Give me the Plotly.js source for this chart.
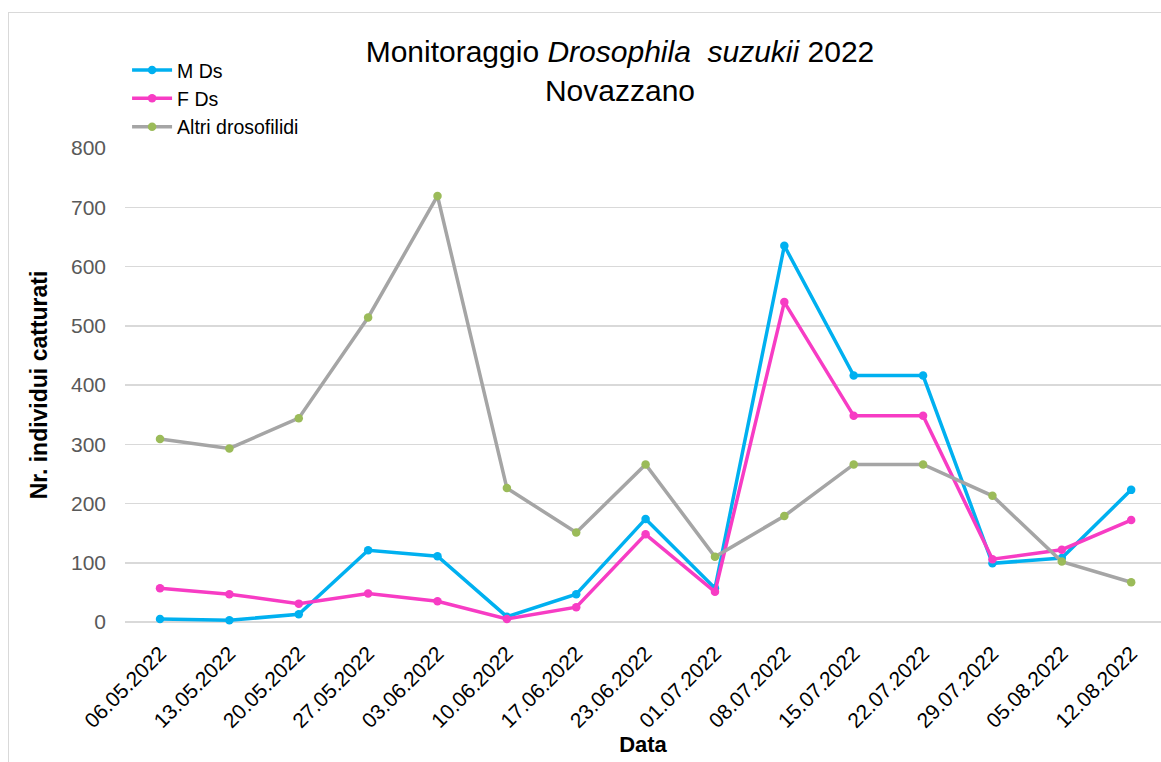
<!DOCTYPE html>
<html><head><meta charset="utf-8">
<script src="https://cdn.plot.ly/plotly-3.0.1.min.js"></script>
<style>
html,body{margin:0;padding:0;background:#fff;}
#frame{position:absolute;left:8px;top:12px;width:1160px;height:760px;border:1px solid #d9d9d9;box-sizing:border-box;}
#chart{position:absolute;left:0;top:0;width:1161px;height:762px;}
</style>
</head><body>
<div id="frame"></div>
<div id="chart"></div>
<script>
const dates = ["06.05.2022","13.05.2022","20.05.2022","27.05.2022","03.06.2022","10.06.2022","17.06.2022","23.06.2022","01.07.2022","08.07.2022","15.07.2022","22.07.2022","29.07.2022","05.08.2022","12.08.2022"];
const maleDs = [5,3,13,121,111,9,47,174,57,635,416,416,99,108,223];
const femaleDs = [57,47,31,48,35,5,25,148,51,540,348,348,106,122,172];
const altriDrosofilidi = [309,293,344,514,719,226,151,266,110,179,266,266,213,102,67];

const traces = [
  {x: dates, y: maleDs, name: "M Ds", type: "scatter", mode: "lines+markers",
   line: {color: "#00B0F0", width: 3.5}, marker: {color: "#00B0F0", size: 8.5}, cliponaxis: false},
  {x: dates, y: femaleDs, name: "F Ds", type: "scatter", mode: "lines+markers",
   line: {color: "#F73CC4", width: 3.5}, marker: {color: "#F73CC4", size: 8.5}, cliponaxis: false},
  {x: dates, y: altriDrosofilidi, name: "Altri drosofilidi", type: "scatter", mode: "lines+markers",
   line: {color: "#A5A5A5", width: 3.5}, marker: {color: "#9BBB59", size: 8.5}, cliponaxis: false}
];

const layout = {
  width: 1161, height: 762,
  margin: {l: 125, r: 0, t: 148, b: 140},
  paper_bgcolor: "rgba(0,0,0,0)", plot_bgcolor: "rgba(0,0,0,0)",
  font: {family: "Liberation Sans, Arial, sans-serif", color: "#000"},
  title: {
    text: "Monitoraggio <i>Drosophila  suzukii</i> 2022<br>Novazzano",
    font: {size: 30, color: "#000"},
    x: 0.534, xref: "container", xanchor: "center",
    y: 0.919, yref: "container", yanchor: "top"
  },
  showlegend: true,
  legend: {
    x: 0.002, y: 1.205, xanchor: "left", yanchor: "top",
    font: {size: 19.5, color: "#000"}, bgcolor: "rgba(0,0,0,0)",
    tracegroupgap: 0, itemwidth: 40
  },
  xaxis: {
    type: "category", range: [-0.505, 14.43],
    tickangle: -45, tickfont: {size: 21, color: "#000"},
    showgrid: false, zeroline: false, showline: false, ticks: "",
    ticklabelstandoff: 14,
    title: {text: "<b>Data</b>", font: {size: 22, color: "#000"}, standoff: 4}
  },
  yaxis: {
    range: [0, 800], dtick: 100,
    tickfont: {size: 21, color: "#595959"},
    gridcolor: "#D9D9D9", gridwidth: 1.5, zeroline: true, zerolinecolor: "#D9D9D9", zerolinewidth: 1.5,
    showline: false, ticks: "", ticklabelstandoff: 18,
    title: {text: "<b>Nr. individui catturati</b>", font: {size: 23, color: "#000"}, standoff: 16}
  }
};

Plotly.newPlot("chart", traces, layout, {displayModeBar: false, staticPlot: true});
</script>
</body></html>
